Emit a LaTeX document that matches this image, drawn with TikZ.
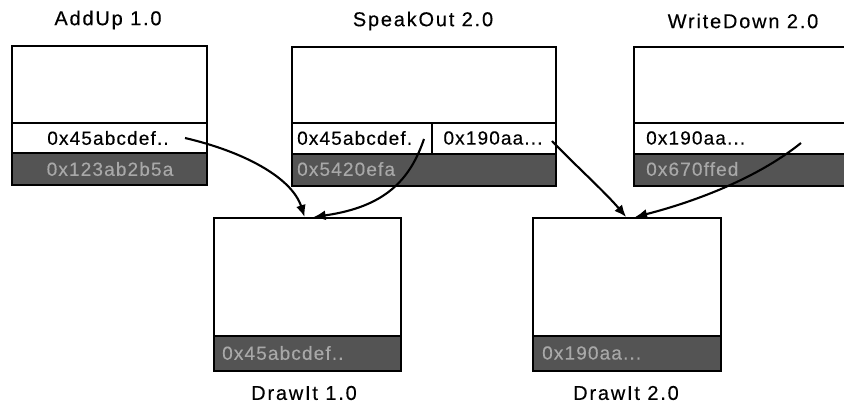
\documentclass[tikz,border=0pt]{standalone}
\usepackage{fontspec}
\setmainfont{Liberation Sans}
\newfontfamily\titlespaced[LetterSpace=9,FakeBold=0.3]{Liberation Sans}
\newfontfamily\cellspaced[LetterSpace=6,FakeBold=0.3]{Liberation Sans}
\usetikzlibrary{arrows.meta}
\definecolor{bandgray}{gray}{0.33}
\definecolor{bandtext}{gray}{0.66}
\newcommand{\titlefont}{\titlespaced\fontsize{20}{22}\selectfont}
\newcommand{\cellfont}{\cellspaced\fontsize{19}{21}\selectfont}
\begin{document}
\begin{tikzpicture}[x=1pt,y=-1pt,
  area/.style={draw, line width=2.2pt, fill=white, inner sep=0pt, anchor=north west},
  bandbox/.style={draw, line width=2.2pt, fill=bandgray, inner sep=0pt, anchor=north west},
  title/.style={font=\titlefont, inner sep=0pt},
  celltext/.style={font=\cellfont, inner sep=0pt},
  bandlabel/.style={font=\cellfont, text=bandtext, inner sep=0pt},
  link/.style={line width=2.1pt, -{Latex[length=12pt,width=10pt]}}
]
\useasboundingbox (0,0) rectangle (844,404);
\begin{scope}
\clip (0,0) rectangle (844,404);
% AddUp 1.0
\node[title] (t1) at (108,20) {AddUp 1.0};
\node[area, minimum width=195pt, minimum height=77pt] (addup) at (11,45) {};
\node[area, minimum width=195pt, minimum height=30pt] (addupcell) at (11,122) {};
\node[bandbox, minimum width=195pt, minimum height=32pt] (addupband) at (11,152) {};
\node[celltext] (addupc) at (108,138) {0x45abcdef..};
\node[bandlabel] (addupb) at (110,169) {0x123ab2b5a};
% SpeakOut 2.0
\node[title] (t2) at (423,21) {SpeakOut 2.0};
\node[area, minimum width=264pt, minimum height=76pt] (speak) at (291,46) {};
\node[area, minimum width=140pt, minimum height=31pt] (speakcellA) at (291,122) {};
\node[area, minimum width=124pt, minimum height=31pt] (speakcellB) at (431,122) {};
\node[bandbox, minimum width=264pt, minimum height=32pt] (speakband) at (291,153) {};
\node[celltext, anchor=west] (speakA) at (297,138) {0x45abcdef.};
\node[celltext] (speakB) at (493,138) {0x190aa...};
\node[bandlabel, anchor=west] (speakb) at (297,169) {0x5420efa};
% WriteDown 2.0
\node[title] (t3) at (743,21) {WriteDown 2.0};
\node[area, minimum width=230pt, minimum height=76pt] (write) at (633,46) {};
\node[area, minimum width=230pt, minimum height=31pt] (writecell) at (633,122) {};
\node[bandbox, minimum width=230pt, minimum height=32pt] (writeband) at (633,153) {};
\node[celltext, anchor=west] (writeA) at (646,138) {0x190aa...};
\node[bandlabel, anchor=west] (writeb) at (646,169) {0x670ffed};
% DrawIt 1.0
\node[area, minimum width=187pt, minimum height=118pt] (draw1) at (213,217) {};
\node[bandbox, minimum width=187pt, minimum height=35pt] (draw1band) at (213,335) {};
\node[bandlabel, anchor=west] (draw1b) at (222,353) {0x45abcdef..};
\node[title] (l1) at (304,393) {DrawIt 1.0};
% DrawIt 2.0
\node[area, minimum width=188pt, minimum height=118pt] (draw2) at (532,217) {};
\node[bandbox, minimum width=188pt, minimum height=35pt] (draw2band) at (532,335) {};
\node[bandlabel, anchor=west] (draw2b) at (542,353) {0x190aa...};
\node[title] (l2) at (626,393) {DrawIt 2.0};
% connector ends
\coordinate (s1) at (185,138);
\coordinate (s2) at (424,139);
\coordinate (s3) at (552,141);
\coordinate (s4) at (801,143);
\coordinate (e1) at ([xshift=-3pt]draw1.north);
\coordinate (e2) at ([xshift=6pt]draw1.north);
\coordinate (e3) at ([xshift=-1pt]draw2.north);
\coordinate (e4) at ([xshift=8pt]draw2.north);
\draw[link] (s1) .. controls (245,152) and (292,178) .. (e1);
\draw[link] (s2) .. controls (410,180) and (385,207) .. (e2);
\draw[link] (s3) .. controls (575,165) and (605,192) .. (e3);
\draw[link] (s4) .. controls (755,180) and (690,203) .. (e4);
\end{scope}
\end{tikzpicture}
\end{document}
